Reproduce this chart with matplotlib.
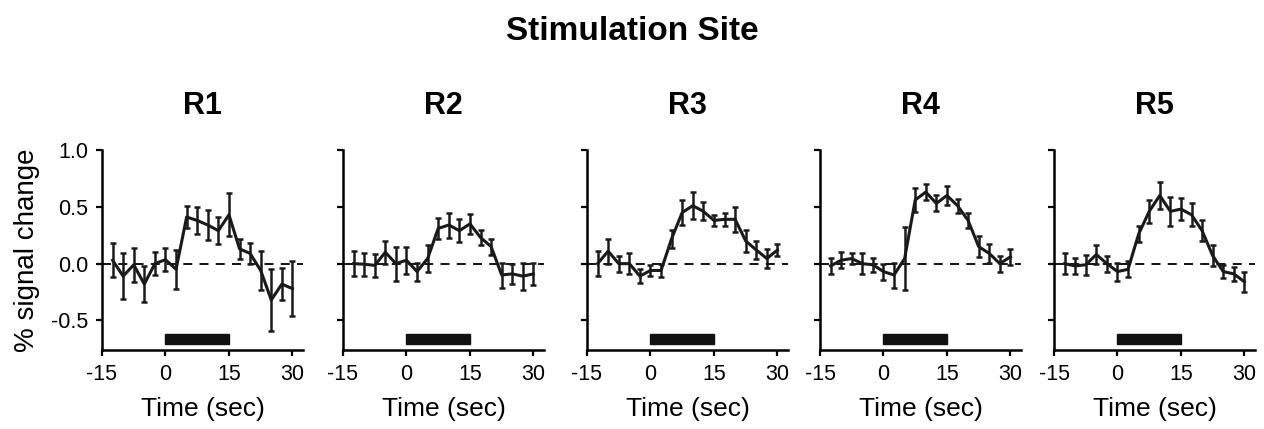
import numpy as np
import matplotlib
matplotlib.use('Agg')
import matplotlib.pyplot as plt
from matplotlib.patches import Rectangle

plt.rcParams['font.family'] = ['Liberation Sans', 'DejaVu Sans']

# time points (sec) and site labels
time = np.arange(-12.5, 30.1, 2.5)
sites = ['R1', 'R2', 'R3', 'R4', 'R5']

# mean % signal change per site
r1_mean = [0.03, -0.11, -0.01, -0.18, 0.00, 0.035, -0.05, 0.41, 0.38, 0.34, 0.29, 0.43, 0.13, 0.09, -0.06, -0.32, -0.18, -0.22]
r2_mean = [0.00, -0.005, -0.015, 0.10, 0.00, 0.03, -0.07, 0.045, 0.31, 0.34, 0.29, 0.35, 0.23, 0.15, -0.10, -0.09, -0.11, -0.09]
r3_mean = [0.00, 0.11, 0.00, 0.00, -0.11, -0.06, -0.06, 0.22, 0.45, 0.51, 0.46, 0.38, 0.39, 0.39, 0.20, 0.12, 0.045, 0.12]
r4_mean = [-0.02, 0.03, 0.045, 0.00, -0.01, -0.07, -0.10, 0.045, 0.56, 0.63, 0.53, 0.60, 0.51, 0.38, 0.15, 0.09, 0.00, 0.06]
r5_mean = [0.00, -0.02, -0.01, 0.08, 0.00, -0.07, -0.05, 0.26, 0.46, 0.60, 0.46, 0.48, 0.43, 0.29, 0.07, -0.07, -0.09, -0.16]

# error bar half-widths
r1_err = [0.15, 0.20, 0.15, 0.16, 0.10, 0.10, 0.17, 0.10, 0.12, 0.13, 0.12, 0.19, 0.09, 0.09, 0.17, 0.27, 0.14, 0.24]
r2_err = [0.11, 0.10, 0.10, 0.10, 0.15, 0.12, 0.08, 0.12, 0.09, 0.11, 0.10, 0.09, 0.07, 0.07, 0.11, 0.09, 0.12, 0.10]
r3_err = [0.11, 0.11, 0.07, 0.09, 0.06, 0.05, 0.06, 0.08, 0.11, 0.12, 0.08, 0.05, 0.06, 0.11, 0.10, 0.08, 0.08, 0.05]
r4_err = [0.07, 0.07, 0.05, 0.09, 0.06, 0.07, 0.11, 0.28, 0.11, 0.07, 0.07, 0.08, 0.06, 0.07, 0.09, 0.08, 0.07, 0.07]
r5_err = [0.09, 0.07, 0.09, 0.085, 0.07, 0.08, 0.07, 0.07, 0.10, 0.12, 0.13, 0.10, 0.10, 0.09, 0.09, 0.06, 0.06, 0.09]

means = [r1_mean, r2_mean, r3_mean, r4_mean, r5_mean]
errs = [r1_err, r2_err, r3_err, r4_err, r5_err]

# stimulation period
stim_on, stim_off = 0, 15

fig = plt.figure(figsize=(12.64, 4.29), dpi=100)
W, H = 1264, 429
lefts = [102, 343, 587, 820, 1054]
ax_w, ax_top, ax_bot = 201, 150, 350

for i, (site, m, e) in enumerate(zip(sites, means, errs)):
    ax = fig.add_axes([lefts[i] / W, (H - ax_bot) / H, ax_w / W, (ax_bot - ax_top) / H])
    ax.axhline(0, color='black', lw=1.3, ls=(0, (5, 4)), zorder=1)
    ax.errorbar(time, m, yerr=e, color='#1a1a1a', lw=2.2, elinewidth=1.8,
                capsize=2.5, capthick=1.8, zorder=3)
    ax.add_patch(Rectangle((stim_on, -0.705), stim_off - stim_on, 0.085,
                           color='#111111', zorder=2))
    ax.set_xlim(-15, 32.5)
    ax.set_ylim(-0.76, 1.0)
    ax.set_xticks([-15, 0, 15, 30])
    ax.set_xticklabels(['-15', '0', '15', '30'], fontsize=15.5)
    ax.set_yticks([-0.5, 0.0, 0.5, 1.0])
    if i == 0:
        ax.set_yticklabels(['-0.5', '0.0', '0.5', '1.0'], fontsize=15.5)
        ax.set_ylabel('% signal change', fontsize=20, labelpad=8)
    else:
        ax.set_yticklabels([])
    ax.spines['top'].set_visible(False)
    ax.spines['right'].set_visible(False)
    ax.spines['left'].set_linewidth(1.8)
    ax.spines['bottom'].set_linewidth(1.8)
    ax.tick_params(direction='out', length=4, width=1.6, pad=6)
    ax.set_xlabel('Time (sec)', fontsize=19, labelpad=9)
    ax.set_title(site, fontsize=22, fontweight='bold', pad=26)

fig.text(0.5, 1 - 31 / H, 'Stimulation Site', ha='center', va='center',
         fontsize=24, fontweight='bold')

plt.savefig('out.png', dpi=100)
